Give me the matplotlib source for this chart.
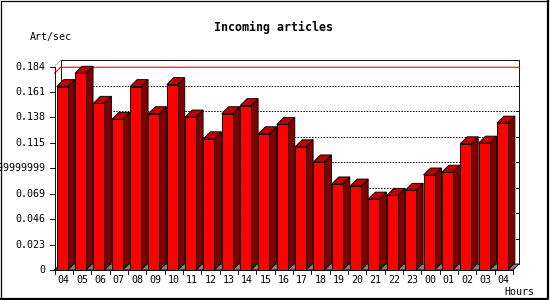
import matplotlib
matplotlib.use("Agg")
import matplotlib.pyplot as plt
from matplotlib.patches import Polygon
from matplotlib.lines import Line2D

hours = ["04", "05", "06", "07", "08", "09", "10", "11", "12", "13", "14", "15", "16",
         "17", "18", "19", "20", "21", "22", "23", "00", "01", "02", "03", "04"]
rates = [0.1658, 0.1779, 0.1507, 0.1362, 0.1658, 0.1413, 0.1676, 0.1383, 0.1186,
         0.1413, 0.1486, 0.1232, 0.1316, 0.1114, 0.0977, 0.0778, 0.0759, 0.0641,
         0.0675, 0.0720, 0.0859, 0.0884, 0.1141, 0.1147, 0.1328]
ytick_vals = [0, 0.023, 0.046, 0.069, 0.092, 0.115, 0.138, 0.161, 0.184]
ytick_labels = ["0", "0.023", "0.046", "0.069", "0.09199999999", "0.115", "0.138",
                "0.161", "0.184"]
ymax = 0.184

W, H = 550, 300
fig = plt.figure(figsize=(W / 100, H / 100), dpi=100)
fig.patch.set_facecolor("white")

# front plane of the plot box, in pixels
left_px, right_px, bottom_px, top_px = 54.5, 513.0, 270.0, 66.5
ax = fig.add_axes([left_px / W, (H - bottom_px) / H,
                   (right_px - left_px) / W, (bottom_px - top_px) / H])
n = len(rates)
ax.set_xlim(0, n)
ax.set_ylim(0, ymax)
ax.axis("off")

px_x = n / (right_px - left_px)      # slots per pixel
px_y = ymax / (bottom_px - top_px)   # value per pixel
wdx, wdy = 6 * px_x, 6 * px_y        # wall depth
bdx, bdy = 7 * px_x, 7 * px_y        # bar depth
lw = 0.65
mono = "DejaVu Sans Mono"


def poly(pts, fc, ec="black", z=2, lw_=lw):
    ax.add_patch(Polygon(pts, closed=True, facecolor=fc, edgecolor=ec,
                         linewidth=lw_, clip_on=False, zorder=z))


def line(xs, ys, **kw):
    kw.setdefault("color", "black")
    kw.setdefault("linewidth", lw)
    ax.add_line(Line2D(xs, ys, clip_on=False, **kw))


# back wall
line([wdx, wdx, n + wdx, n + wdx], [wdy, ymax + wdy, ymax + wdy, wdy], zorder=1)
line([0, wdx], [ymax, ymax + wdy], color="#b0b0b0", zorder=1)
for v in ytick_vals[1:-1]:
    line([wdx, n + wdx], [v + wdy, v + wdy], linestyle=(0, (1.44, 1.44)),
         linewidth=0.72, zorder=1)
    line([n + wdx - 3 * px_x, n + wdx], [v + wdy, v + wdy], zorder=1)

# max line
peak = max(rates)
line([0, wdx, n + wdx], [peak, peak + wdy, peak + wdy], color="#ff0000",
     linewidth=0.8, zorder=1)

# floor
poly([(0, 0), (n, 0), (n + wdx, wdy), (wdx, wdy)], "#808080", z=1.5)

# bars
for i, v in enumerate(rates):
    x0 = i + 0.12
    x1 = x0 + 0.6
    z = 2 + i * 0.01
    poly([(x1, 0), (x1 + bdx, bdy), (x1 + bdx, v + bdy), (x1, v)], "#800000", z=z)
    poly([(x0, v), (x1, v), (x1 + bdx, v + bdy), (x0 + bdx, v + bdy)], "#c00000", z=z)
    poly([(x0, 0), (x1, 0), (x1, v), (x0, v)], "#ff0000", z=z)

# front axes and ticks
line([0, 0], [0, ymax], zorder=3)
line([0, n], [0, 0], zorder=3)
for v, lab in zip(ytick_vals, ytick_labels):
    line([-5 * px_x, 0], [v, v], zorder=3)
    ax.text(-9.5 * px_x, v, lab, ha="right", va="center", fontsize=7.2,
            family=mono, clip_on=False)
for i in range(n + 1):
    line([i, i], [0, -4 * px_y], zorder=3)
for i, h in enumerate(hours):
    ax.text(i + 0.5, -10 * px_y, h, ha="center", va="center", fontsize=7.2,
            family=mono)

fig.text(274 / W, 1 - 27 / H, "Incoming articles", ha="center", va="center",
         fontsize=8.4, family=mono, fontweight="bold")
fig.text(30 / W, 1 - 37 / H, "Art/sec", ha="left", va="center", fontsize=7.2, family=mono)
fig.text(534 / W, 1 - 292 / H, "Hours", ha="right", va="center", fontsize=7.2, family=mono)

# outer frame: thin top/left, heavier right/bottom
fig.add_artist(Line2D([0.5 / W, 0.5 / W], [2 / H, 1 - 0.5 / H],
                      transform=fig.transFigure, color="black", linewidth=0.9))
fig.add_artist(Line2D([0.5 / W, 548 / W], [1 - 0.5 / H, 1 - 0.5 / H],
                      transform=fig.transFigure, color="black", linewidth=0.9))
fig.add_artist(Line2D([0.5 / W, 548 / W, 548 / W], [1.5 / H, 1.5 / H, 1 - 0.5 / H],
                      transform=fig.transFigure, color="black", linewidth=1.6))

fig.savefig("out.png", dpi=100)
